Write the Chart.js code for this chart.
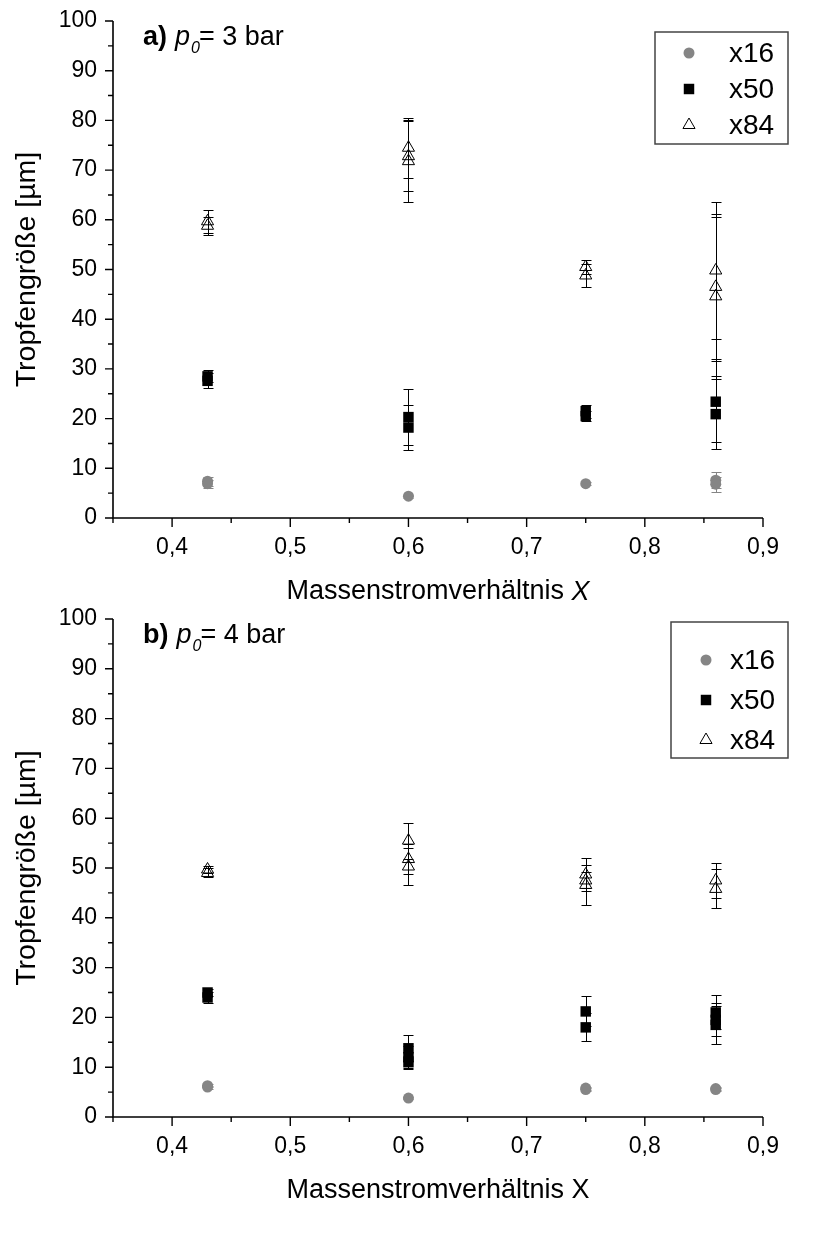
<!DOCTYPE html>
<html><head><meta charset="utf-8">
<script src="https://cdn.jsdelivr.net/npm/chart.js@4.4.1/dist/chart.umd.min.js"></script>
<style>
html,body{margin:0;padding:0;background:#fff;}
#wrap{position:relative;width:813px;height:1235px;background:#fff;}
.c{position:absolute;left:0;width:813px;}
</style></head><body>
<div id="wrap">
<div class="c" style="top:0;height:617px"><canvas id="ca"></canvas></div>
<div class="c" style="top:598px;height:637px"><canvas id="cb"></canvas></div>
</div>
<script>
// ---------- labels / ticks ----------
const seriesNames = ['x16', 'x50', 'x84'];
const xTickValues = [0.4, 0.5, 0.6, 0.7, 0.8, 0.9];
const xTickLabels = ['0,4', '0,5', '0,6', '0,7', '0,8', '0,9'];
const xMinorTicks = [0.35, 0.45, 0.55, 0.65, 0.75, 0.85];
const yTickValues = [0, 10, 20, 30, 40, 50, 60, 70, 80, 90, 100];
const yTickLabels = ['0', '10', '20', '30', '40', '50', '60', '70', '80', '90', '100'];
const yMinorTicks = [5, 15, 25, 35, 45, 55, 65, 75, 85, 95];
const yAxisTitle = 'Tropfengröße [µm]';
const panelLetters = ['a)', 'b)'];
const panelPressures = ['3 bar', '4 bar'];

// ---------- panel a (p0 = 3 bar) ----------
const a_x16_x = [0.43, 0.43, 0.60, 0.75, 0.86, 0.86];
const a_x16_y = [7.4, 6.9, 4.4, 6.9, 7.6, 6.8];
const a_x16_e = [0.9, 0.8, 0.3, 0.3, 1.6, 1.5];

const a_x50_x = [0.43, 0.43, 0.60, 0.60, 0.75, 0.75, 0.86, 0.86];
const a_x50_y = [28.5, 27.6, 20.3, 18.2, 21.5, 20.5, 23.4, 20.9];
const a_x50_e = [1.2, 1.5, 5.7, 4.6, 1.3, 1.0, 8.2, 7.0];

const a_x84_x = [0.43, 0.43, 0.60, 0.60, 0.60, 0.75, 0.75, 0.86, 0.86, 0.86];
const a_x84_y = [59.7, 58.8, 74.5, 72.8, 71.8, 50.5, 48.8, 49.8, 46.5, 44.6];
const a_x84_e = [2.3, 1.8, 6.0, 7.0, 8.3, 1.5, 2.4, 13.8, 14.6, 16.0];

// ---------- panel b (p0 = 4 bar) ----------
const b_x16_x = [0.43, 0.43, 0.60, 0.75, 0.75, 0.86, 0.86];
const b_x16_y = [6.3, 6.0, 3.8, 5.8, 5.5, 5.7, 5.5];
const b_x16_e = [0.3, 0.3, 0.2, 0.3, 0.3, 0.3, 0.3];

const b_x50_x = [0.43, 0.43, 0.60, 0.60, 0.60, 0.75, 0.75, 0.86, 0.86, 0.86];
const b_x50_y = [25.0, 24.0, 13.8, 12.0, 11.0, 21.2, 18.0, 21.0, 19.5, 18.5];
const b_x50_e = [0.8, 1.2, 2.6, 2.3, 1.2, 3.0, 2.8, 3.4, 3.3, 3.8];

const b_x84_x = [0.43, 0.43, 0.60, 0.60, 0.60, 0.75, 0.75, 0.75, 0.86, 0.86];
const b_x84_y = [49.7, 49.0, 55.5, 51.8, 50.3, 48.7, 47.5, 46.6, 47.5, 45.8];
const b_x84_e = [0.8, 0.9, 3.6, 3.0, 3.8, 3.4, 1.6, 4.0, 3.6, 3.9];

const FONT = "'Liberation Sans', Arial, sans-serif";

function pts(xs, ys, es) {
  return xs.map((x, i) => ({x: x, y: ys[i], e: es[i]}));
}

function drawMarker(ctx, style, r, x, y, fill, stroke, bw) {
  ctx.save();
  ctx.beginPath();
  if (style === 'circle') {
    ctx.arc(x, y, r, 0, Math.PI * 2);
  } else if (style === 'rect') {
    const s = Math.SQRT1_2 * r;
    ctx.rect(x - s, y - s, 2 * s, 2 * s);
  } else if (style === 'triangle') {
    let rad = 0;
    ctx.moveTo(x + Math.sin(rad) * r, y - Math.cos(rad) * r);
    rad += 2 * Math.PI / 3;
    ctx.lineTo(x + Math.sin(rad) * r, y - Math.cos(rad) * r);
    rad += 2 * Math.PI / 3;
    ctx.lineTo(x + Math.sin(rad) * r, y - Math.cos(rad) * r);
    ctx.closePath();
  }
  if (fill && fill !== 'transparent') { ctx.fillStyle = fill; ctx.fill(); }
  if (bw > 0) { ctx.lineWidth = bw; ctx.strokeStyle = stroke; ctx.stroke(); }
  ctx.restore();
}

const axesPlugin = {
  id: 'axesPlugin',
  afterDraw(chart) {
    const ctx = chart.ctx, xs = chart.scales.x, ys = chart.scales.y;
    const ca = chart.chartArea;
    ctx.save();
    ctx.strokeStyle = '#000';
    ctx.lineWidth = 1.6;
    ctx.beginPath();
    ctx.moveTo(ca.left, ys.getPixelForValue(100));
    ctx.lineTo(ca.left, ca.bottom);
    ctx.lineTo(xs.getPixelForValue(0.9), ca.bottom);
    ctx.stroke();
    ctx.lineWidth = 1.4;
    ctx.beginPath();
    yTickValues.forEach(v => { const p = ys.getPixelForValue(v); ctx.moveTo(ca.left, p); ctx.lineTo(ca.left - 8, p); });
    yMinorTicks.forEach(v => { const p = ys.getPixelForValue(v); ctx.moveTo(ca.left, p); ctx.lineTo(ca.left - 5, p); });
    xTickValues.forEach(v => { const p = xs.getPixelForValue(v); ctx.moveTo(p, ca.bottom); ctx.lineTo(p, ca.bottom + 9); });
    xMinorTicks.forEach(v => { const p = xs.getPixelForValue(v); ctx.moveTo(p, ca.bottom); ctx.lineTo(p, ca.bottom + 5); });
    ctx.stroke();
    ctx.restore();
  }
};

const errorPlugin = {
  id: 'errorPlugin',
  beforeDatasetsDraw(chart) {
    const ctx = chart.ctx, xs = chart.scales.x, ys = chart.scales.y;
    ctx.save();
    chart.data.datasets.forEach(ds => {
      ctx.strokeStyle = ds.errorColor;
      ctx.lineWidth = 1;
      ds.data.forEach(p => {
        const px = Math.round(xs.getPixelForValue(p.x)) + 0.5;
        const pt = Math.round(ys.getPixelForValue(p.y + p.e)) + 0.5;
        const pb = Math.round(ys.getPixelForValue(p.y - p.e)) + 0.5;
        ctx.beginPath();
        ctx.moveTo(px, pt); ctx.lineTo(px, pb);
        ctx.moveTo(px - 5, pt); ctx.lineTo(px + 5, pt);
        ctx.moveTo(px - 5, pb); ctx.lineTo(px + 5, pb);
        ctx.stroke();
      });
    });
    ctx.restore();
  }
};

const decoPlugin = {
  id: 'decoPlugin',
  afterDraw(chart, args, opts) {
    const ctx = chart.ctx, ca = chart.chartArea;
    ctx.save();
    ctx.fillStyle = '#000';
    ctx.textBaseline = 'alphabetic';
    // panel label
    let x = opts.labelX, y = opts.labelY;
    ctx.font = 'bold 27px ' + FONT;
    ctx.fillText(opts.letter, x, y);
    x += ctx.measureText(opts.letter).width + 8;
    ctx.font = 'italic 27px ' + FONT;
    ctx.fillText('p', x, y);
    x += ctx.measureText('p').width;
    ctx.font = 'italic 16px ' + FONT;
    ctx.fillText('0', x + 1, y + 8);
    x += 9;
    ctx.font = '27px ' + FONT;
    ctx.fillText('= ' + opts.pressure, x, y);
    // x axis title
    const parts = opts.xTitle;
    let total = 0;
    parts.forEach(pp => { ctx.font = (pp.italic ? 'italic ' : '') + '27px ' + FONT; total += ctx.measureText(pp.text).width; });
    let tx = (ca.left + ca.right) / 2 - total / 2;
    ctx.textBaseline = 'middle';
    parts.forEach(pp => { ctx.font = (pp.italic ? 'italic ' : '') + '27px ' + FONT; ctx.fillText(pp.text, tx, ca.bottom + 74); tx += ctx.measureText(pp.text).width; });
    // legend box
    const L = opts.legend;
    ctx.strokeStyle = '#444';
    ctx.lineWidth = 1.5;
    ctx.strokeRect(L.left, L.top, L.width, L.height);
    ctx.font = '28px ' + FONT;
    ctx.textBaseline = 'middle';
    chart.data.datasets.forEach((ds, i) => {
      const ry = L.top + L.firstRow + i * L.rowGap;
      drawMarker(ctx, ds.pointStyle, ds.pointRadius, L.markerX, ry, ds.pointBackgroundColor, ds.pointBorderColor, ds.pointBorderWidth);
      ctx.fillStyle = '#000';
      ctx.fillText(ds.label, L.textX, ry + 1);
    });
    ctx.restore();
  }
};

function makeChart(id, sets, letter, pressure, xTitle, legend, xHeight) {
  return new Chart(document.getElementById(id), {
    type: 'scatter',
    data: {
      datasets: [
        {label: seriesNames[0], data: sets[0], pointStyle: 'circle', pointRadius: 5.5,
         pointBackgroundColor: '#858585', pointBorderColor: '#858585', pointBorderWidth: 0, errorColor: '#858585'},
        {label: seriesNames[1], data: sets[1], pointStyle: 'rect', pointRadius: 7.4,
         pointBackgroundColor: '#000', pointBorderColor: '#000', pointBorderWidth: 0, errorColor: '#000'},
        {label: seriesNames[2], data: sets[2], pointStyle: 'triangle', pointRadius: 7,
         pointBackgroundColor: 'transparent', pointBorderColor: '#000', pointBorderWidth: 1, errorColor: '#000'}
      ]
    },
    options: {
      responsive: true, maintainAspectRatio: false, animation: false,
      layout: {padding: {top: 21, right: 50, left: 0, bottom: 0}},
      plugins: {
        legend: {display: false}, tooltip: {enabled: false},
        decoPlugin: {letter: letter, pressure: pressure, labelX: 143, labelY: 45, xTitle: xTitle, legend: legend}
      },
      scales: {
        x: {
          type: 'linear', min: 0.35, max: 0.9,
          grid: {display: false, drawTicks: false}, border: {display: false},
          afterBuildTicks: s => { s.ticks = xTickValues.map(v => ({value: v})); },
          ticks: {padding: 16, color: '#000', font: {family: FONT, size: 23}, maxRotation: 0, autoSkip: false,
                  callback: (v, i) => xTickLabels[i]},
          afterFit: s => { s.height = xHeight; }
        },
        y: {
          type: 'linear', min: 0, max: 100,
          grid: {display: false, drawTicks: false}, border: {display: false},
          afterBuildTicks: s => { s.ticks = yTickValues.map(v => ({value: v})); },
          ticks: {padding: 16, color: '#000', font: {family: FONT, size: 23}, autoSkip: false,
                  callback: (v, i) => yTickLabels[i]},
          title: {display: true, text: yAxisTitle, color: '#000', font: {family: FONT, size: 28.5, lineHeight: 1}, padding: {top: 13, bottom: 0}},
          afterFit: s => { s.width = 113; s.paddingTop = 0; s.paddingBottom = 0; }
        }
      }
    },
    plugins: [errorPlugin, axesPlugin, decoPlugin]
  });
}

makeChart('ca',
  [pts(a_x16_x, a_x16_y, a_x16_e), pts(a_x50_x, a_x50_y, a_x50_e), pts(a_x84_x, a_x84_y, a_x84_e)],
  panelLetters[0], panelPressures[0],
  [{text: 'Massenstromverhältnis ', italic: false}, {text: 'X', italic: true}],
  {left: 655, top: 32, width: 133, height: 112, firstRow: 21, rowGap: 36, markerX: 689, textX: 729}, 99);

makeChart('cb',
  [pts(b_x16_x, b_x16_y, b_x16_e), pts(b_x50_x, b_x50_y, b_x50_e), pts(b_x84_x, b_x84_y, b_x84_e)],
  panelLetters[1], panelPressures[1],
  [{text: 'Massenstromverhältnis X', italic: false}],
  {left: 671, top: 24, width: 117, height: 136, firstRow: 38, rowGap: 40, markerX: 706, textX: 730}, 118);
</script>
</body></html>
